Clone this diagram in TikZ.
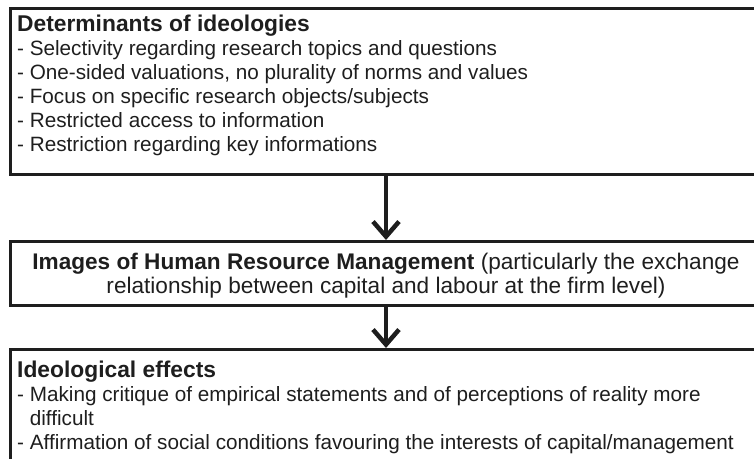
\documentclass[tikz,border=0pt]{standalone}
\usepackage{fontspec}
\setmainfont{Liberation Sans}
\usetikzlibrary{arrows.meta}
\definecolor{ink}{HTML}{1E1E1E}
\tikzset{
  boxframe/.style={draw=ink, line width=3pt},
  bodyline/.style={anchor=base west, inner sep=0pt, text=ink, font=\fontsize{20.7}{24}\selectfont},
  titleline/.style={anchor=base west, inner sep=0pt, text=ink, font=\fontsize{22.8}{24}\selectfont\bfseries},
  midline/.style={anchor=base, inner sep=0pt, text=ink, font=\fontsize{22.6}{24}\selectfont},
  flowarrow/.style={draw=ink, line width=4.5pt, -{Straight Barb[length=15pt,width=26pt]}}
}
\begin{document}
\begin{tikzpicture}[x=1pt,y=-1pt]
\useasboundingbox (0,0) rectangle (754,458);
\clip (0,0) rectangle (754,458);
% boxes (extend past right/bottom edge)
\node[boxframe, anchor=north west, minimum width=780pt, minimum height=166pt, inner sep=0pt] (det) at (9,7) {};
\node[boxframe, anchor=north west, minimum width=780pt, minimum height=64pt, inner sep=0pt] (img) at (9,240) {};
\node[boxframe, anchor=north west, minimum width=780pt, minimum height=140pt, inner sep=0pt] (eff) at (9,348) {};
\coordinate (ax) at (386,0);
% box 1 text
\node[titleline] (d0) at (17,31) {Determinants of ideologies};
\node[bodyline] (d1) at (17,55) {- Selectivity regarding research topics and questions};
\node[bodyline] (d2) at (17,79) {- One-sided valuations, no plurality of norms and values};
\node[bodyline] (d3) at (17,103) {- Focus on specific research objects/subjects};
\node[bodyline] (d4) at (17,127) {- Restricted access to information};
\node[bodyline] (d5) at (17,151) {- Restriction regarding key informations};
% box 2 text
\node[midline] (i1) at (386,269) {\textbf{Images of Human Resource Management} (particularly the exchange};
\node[midline] (i2) at (386,293) {relationship between capital and labour at the firm level)};
% box 3 text
\node[titleline] (e0) at (17,377) {Ideological effects};
\node[bodyline] (e1) at (17,401) {- Making critique of empirical statements and of perceptions of reality more};
\node[bodyline] (e2) at (17,425) {\phantom{- }difficult};
\node[bodyline] (e3) at (17,449) {- Affirmation of social conditions favouring the interests of capital/management};
% arrows
\draw[flowarrow] (det.south -| ax) -- (img.north -| ax);
\draw[flowarrow] (img.south -| ax) -- (eff.north -| ax);
\end{tikzpicture}
\end{document}
